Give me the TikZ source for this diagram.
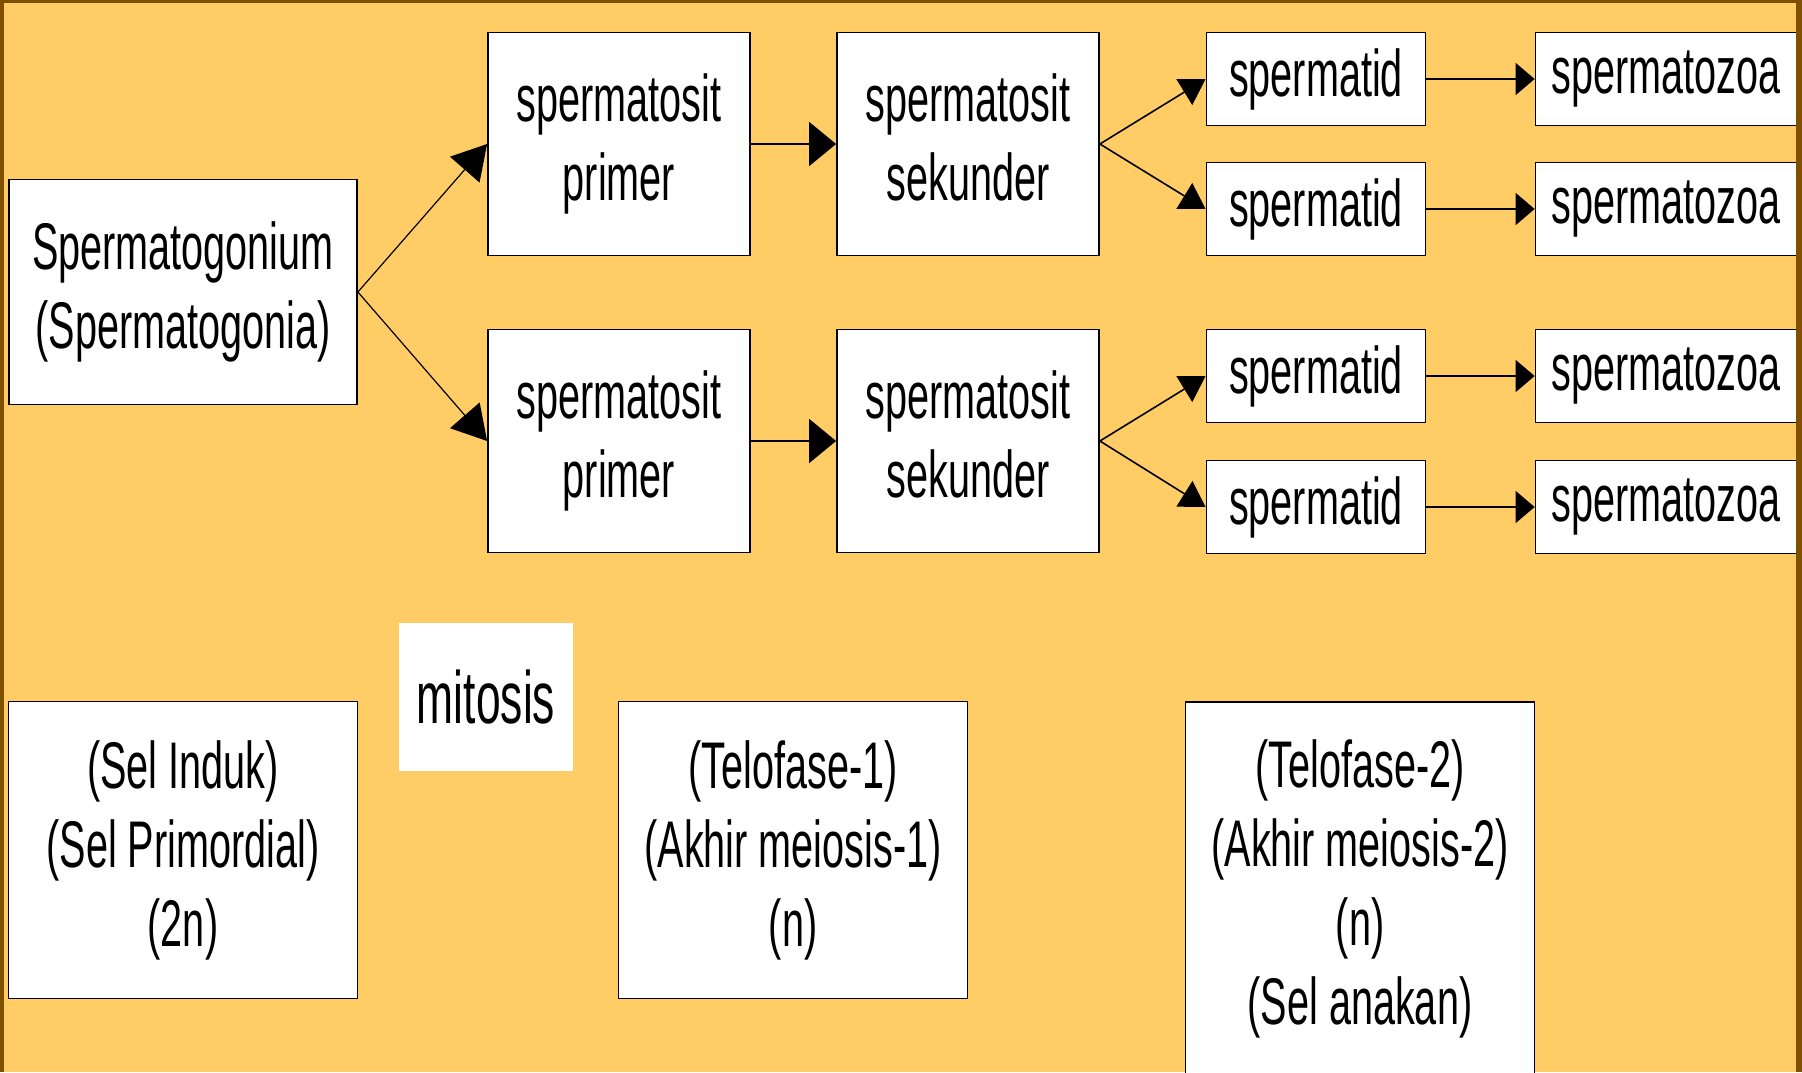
\documentclass[tikz,border=0pt]{standalone}
\usepackage{fontspec}
\setmainfont{Liberation Sans}[FakeStretch=0.6]
\usetikzlibrary{arrows.meta}
\definecolor{bgorange}{HTML}{FFCC66}
\definecolor{framebrown}{HTML}{7F5000}
\begin{document}
\begin{tikzpicture}[x=0.5pt,y=-0.5pt,
  cell/.style={draw=black, line width=0.9pt, fill=white, inner sep=0pt, align=center,
    font=\fontsize{33pt}{39.5pt}\selectfont},
  wide/.style={cell, minimum width=174pt, minimum height=112.5pt},
  mid/.style={cell, minimum width=131pt, minimum height=111.5pt},
  low/.style={cell, minimum width=109.5pt, minimum height=46.5pt},
  zoa/.style={cell, minimum width=130.5pt, minimum height=46.5pt},
  base/.style={cell, minimum width=174.5pt, minimum height=148.5pt},
  tipdiag/.style={line width=0.6pt, -{Triangle[length=17pt,width=19.5pt]}},
  tipmid/.style={line width=0.9pt, -{Triangle[length=13.5pt,width=22pt]}},
  tipfork/.style={line width=0.8pt, -{Triangle[length=12.5pt,width=15pt]}},
  tipend/.style={line width=0.9pt, -{Triangle[length=9.5pt,width=16pt]}}]
\useasboundingbox (0,0) rectangle (1802,1072);
\clip (0,0) rectangle (1802,1072);
\fill[bgorange] (0,0) rectangle (1802,1072);
% upper row
\node[wide] (gonium) at (183,292) {Spermatogonium\\(Spermatogonia)};
\node[mid] (primerA) at (619,144) {spermatosit\\primer};
\node[mid] (sekunderA) at (968,144) {spermatosit\\sekunder\vphantom{p}};
\node[low] (tidA1) at (1316,79) {spermatid};
\node[low] (tidA2) at (1316,209) {spermatid};
\node[zoa] (zoaA1) at (1666,79) {spermatozoa};
\node[zoa] (zoaA2) at (1666,209) {spermatozoa};
% lower row
\node[mid] (primerB) at (619,441) {spermatosit\\primer};
\node[mid] (sekunderB) at (968,441) {spermatosit\\sekunder\vphantom{p}};
\node[low] (tidB1) at (1316,376) {spermatid};
\node[low] (tidB2) at (1316,507) {spermatid};
\node[zoa] (zoaB1) at (1666,376) {spermatozoa};
\node[zoa] (zoaB2) at (1666,507) {spermatozoa};
% arrows
\draw[tipdiag] (gonium.east) -- (primerA.west);
\draw[tipdiag] (gonium.east) -- (primerB.west);
\draw[tipmid] (primerA) -- (sekunderA);
\draw[tipmid] (primerB) -- (sekunderB);
\draw[tipfork] (sekunderA.east) -- (tidA1.west);
\draw[tipfork] (sekunderA.east) -- (tidA2.west);
\draw[tipfork] (sekunderB.east) -- (tidB1.west);
\draw[tipfork] (sekunderB.east) -- (tidB2.west);
\draw[tipend] (tidA1) -- (zoaA1);
\draw[tipend] (tidA2) -- (zoaA2);
\draw[tipend] (tidB1) -- (zoaB1);
\draw[tipend] (tidB2) -- (zoaB2);
% stages
\node[cell, draw=none, minimum width=87pt, minimum height=74pt,
  font=\fontsize{37pt}{44pt}\selectfont] (mitosis) at (486,697) {mitosis};
\node[base] (induk) at (183,850) {(Sel Induk)\\(Sel Primordial)\\(2n)};
\node[base] (telo1) at (793,850) {(Telofase-1)\\(Akhir meiosis-1)\\(n)};
\node[cell, minimum width=174.5pt, minimum height=187pt] (telo2) at (1360,889)
  {(Telofase-2)\\(Akhir meiosis-2)\\(n)\\(Sel anakan)};
% frame
\fill[framebrown] (0,0) rectangle (1802,3);
\fill[framebrown] (0,0) rectangle (4,1072);
\fill[framebrown] (1796,0) rectangle (1802,1072);
\end{tikzpicture}
\end{document}
